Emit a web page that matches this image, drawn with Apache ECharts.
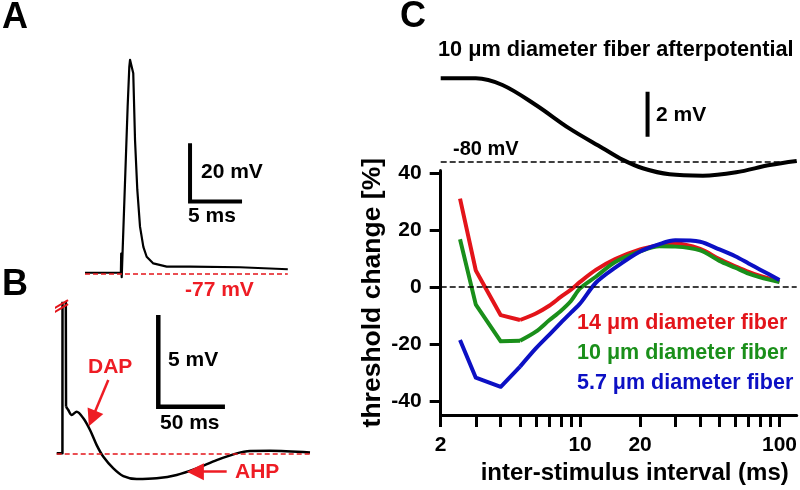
<!DOCTYPE html>
<html><head><meta charset="utf-8">
<script src="https://cdn.jsdelivr.net/npm/echarts@6/dist/echarts.min.js"></script>
<style>html,body{margin:0;padding:0;background:#fff}#c{width:800px;height:490px}</style>
</head><body><div id="c"></div>
<script>
// ---------- Panel A: action potential (time ms, membrane potential mV)
const aTime = [0, 3.45, 3.48, 3.53, 3.7, 4.1, 4.26, 4.33, 4.42, 4.52, 4.64, 4.81, 5.03, 5.29, 5.61, 5.93, 6.57, 7.86, 10.1, 14.9, 19.5];
const aVolt = [-76.8, -76.8, -70.2, -78.3, -77.8, -19.9, -6.2, -3.8, -3.3, -4.2, -8.4, -31.3, -48.4, -61.0, -67.9, -71.3, -73.6, -74.7, -74.7, -74.9, -75.6];
const aRest = -77;
const aScale = { t: 10.1, v: -52.4, dt: 5, dv: 20 };

// ---------- Panel B: afterpotentials (time ms, mV)
const bTime = [0, 4.3, 4.8, 7.0, 8.7, 11.25, 15, 20, 25, 30, 35, 42.5, 50, 60, 75, 90, 105, 120, 135, 145, 160, 190];
const bVolt = [-77, -77, -3, -74.46, -74.64, -74.91, -74.73, -75.09, -75.73, -76.55, -77.19, -77.82, -78.24, -78.40, -78.36, -78.18, -77.82, -77.37, -77.0, -76.87, -76.86, -76.95];
const bSplit = 3; // spike part drawn straight, tail smooth
const bRest = -77;
const bScale = { t: 76.2, v: -74.46, dt: 50, dv: 5 };
const dapArrow = [[38.7, -73.0], [26.6, -75.1]];
const ahpArrow = [[127.5, -78.0], [104, -78.0]];
const breakMarks = [[[-2.8, -69.13], [8.5, -68.64]], [[-2.8, -69.35], [8.5, -68.86]]];

// ---------- Panel C top: 10 um afterpotential vs inter-stimulus interval
const apTime = [2, 3, 4.08, 6, 8.83, 13, 16.4, 20.6, 28.1, 41.3, 60.7, 89.3, 122];
const apVolt = [-76.29, -76.29, -76.59, -77.48, -78.52, -79.4, -79.92, -80.29, -80.56, -80.62, -80.47, -80.15, -79.97];
const apRest = -80;
const apScale = { t: 21.8, v: -78.89, dv: 2 };

// ---------- Panel C: threshold change [%] vs inter-stimulus interval (ms)
const isi = [2.5, 3, 4, 5, 6, 7, 8, 9, 10, 12, 15, 20, 25, 30, 40, 50, 60, 70, 80, 100];
const fiber14 = [31.1, 5.8, -9.9, -11.6, -9.3, -6.6, -3.5, -0.9, 1.8, 6.0, 9.8, 13.2, 14.7, 15.3, 13.4, 9.8, 7.3, 5.3, 3.9, 1.9];
const fiber10 = [16.8, -6.2, -19.1, -18.9, -15.7, -11.7, -8.4, -4.9, -0.5, 3.6, 8.8, 12.5, 14.3, 14.2, 12.9, 9.2, 6.8, 4.7, 3.4, 1.7];
const fiber57 = [-18.6, -31.9, -35.1, -28.0, -21.6, -16.8, -12.6, -9.0, -5.8, 1.5, 6.8, 12.5, 15.1, 16.4, 15.9, 13.2, 10.8, 8.3, 6.1, 2.5];
const cSplit = 3; // 2.5..5 ms drawn as straight segments
const yTicks = [-40, -20, 0, 20, 40];
const xLabels = [2, 10, 20, 100];
const xTicks = [2, 3, 4, 5, 6, 7, 8, 9, 10, 20, 30, 40, 50, 60, 70, 80, 90, 100];
const legendNames = ['14 \u03bcm diameter fiber', '10 \u03bcm diameter fiber', '5.7 \u03bcm diameter fiber'];

const RED = '#e3141a', GREEN = '#1a8f1a', BLUE = '#0c10c4', TRED = '#ee1c24';
const FONT = '"Liberation Sans", Arial, Helvetica, sans-serif';

function pairs(xs, ys, from, to) {
  const out = [];
  const a = from || 0, b = (to === undefined ? xs.length : to);
  for (let i = a; i < b; i++) out.push([xs[i], ys[i]]);
  return out;
}
function lineS(xi, data, color, width, extra) {
  return Object.assign({
    type: 'line', xAxisIndex: xi, yAxisIndex: xi, data: data, symbol: 'none',
    lineStyle: { color: color, width: width, join: 'round', cap: 'butt' },
    silent: true, animation: false
  }, extra || {});
}
function hLine(val, color, width, dash) {
  return { silent: true, symbol: 'none', label: { show: false },
    lineStyle: { color: color, width: width, type: dash }, data: [{ yAxis: val }] };
}
function txt(x, y, text, size, color) {
  return { type: 'text', x: x, y: y, silent: true,
    style: { text: text, font: 'bold ' + size + 'px ' + FONT, fill: color || '#000', align: 'left', verticalAlign: 'middle' } };
}
const hidden = { show: false };

const chart = echarts.init(document.getElementById('c'), null, { renderer: 'canvas' });
const series = [];
// A
series.push(lineS(0, pairs(aTime, aVolt), '#000', 2.2, { markLine: hLine(aRest, RED, 1.5, [5, 3]), z: 3 }));
series.push(lineS(0, [[aScale.t, aScale.v + aScale.dv], [aScale.t, aScale.v], [aScale.t + aScale.dt, aScale.v]], '#000', 4, { lineStyle: { color: '#000', width: 4, join: 'miter' } }));
// B
series.push(lineS(1, pairs(bTime, bVolt, 0, bSplit + 1), '#000', 2.5, { markLine: hLine(bRest, RED, 1.5, [5, 3]) }));
series.push(lineS(1, pairs(bTime, bVolt, bSplit), '#000', 2.5, { smooth: 0.3,
  markLine: { silent: true, symbol: ['none', 'triangle'], symbolSize: 17, label: { show: false },
    lineStyle: { color: TRED, width: 2.5, type: 'solid' }, itemStyle: { color: TRED },
    data: [[{ coord: dapArrow[0] }, { coord: dapArrow[1] }], [{ coord: ahpArrow[0] }, { coord: ahpArrow[1] }]] } }));
breakMarks.forEach(function (m) { series.push(lineS(1, m, RED, 2, { clip: false })); });
series.push(lineS(1, [[bScale.t, bScale.v + bScale.dv], [bScale.t, bScale.v], [bScale.t + bScale.dt, bScale.v]], '#000', 4.5, { lineStyle: { color: '#000', width: 4.5, join: 'miter' } }));
// C top
series.push(lineS(2, pairs(apTime, apVolt), '#000', 4, { smooth: 0.35, markLine: hLine(apRest, '#000', 1.5, [6, 3]) }));
series.push(lineS(2, [[apScale.t, apScale.v], [apScale.t, apScale.v + apScale.dv]], '#000', 4));
// C main
[[fiber14, RED], [fiber10, GREEN], [fiber57, BLUE]].forEach(function (f, k) {
  series.push(lineS(3, pairs(isi, f[0], 0, cSplit + 1), f[1], 4, k === 0 ? { markLine: hLine(0, '#000', 1.5, [6, 3]) } : {}));
  series.push(lineS(3, pairs(isi, f[0], cSplit), f[1], 4, { smooth: 0.3 }));
});

const option = {
  animation: false,
  backgroundColor: '#fff',
  grid: [
    { left: 85, top: 48.8, width: 202.8, height: 233.3 },
    { left: 56.7, top: 303, width: 253.3, height: 187 },
    { left: 440.7, top: 60.45, width: 356, height: 123.75 },
    { left: 440.7, top: 170.4, width: 356, height: 247.3 }
  ],
  xAxis: [
    Object.assign({ type: 'value', gridIndex: 0, min: 0, max: 19.5 }, hidden),
    Object.assign({ type: 'value', gridIndex: 1, min: 0, max: 190 }, hidden),
    Object.assign({ type: 'log', gridIndex: 2, min: 2, max: 122 }, hidden),
    { type: 'log', gridIndex: 3, min: 2, max: 122, logBase: 10,
      axisLine: { show: true, onZero: false, lineStyle: { color: '#000', width: 3 } },
      axisTick: { show: true, length: 12, customValues: xTicks, lineStyle: { color: '#000', width: 3 } },
      axisLabel: { customValues: xLabels, margin: 20, color: '#000', fontSize: 21, fontWeight: 'bold', fontFamily: FONT },
      splitLine: { show: false }, minorTick: { show: false },
      name: 'inter-stimulus interval (ms)', nameLocation: 'middle', nameGap: 46,
      nameTextStyle: { color: '#000', fontSize: 24, fontWeight: 'bold', fontFamily: FONT, padding: [0, 0, 0, 32] } }
  ],
  yAxis: [
    Object.assign({ type: 'value', gridIndex: 0, min: -80, max: 0 }, hidden),
    Object.assign({ type: 'value', gridIndex: 1, min: -79, max: -68.8 }, hidden),
    Object.assign({ type: 'value', gridIndex: 2, min: -81, max: -75.5 }, hidden),
    { type: 'value', gridIndex: 3, min: -45, max: 41,
      axisLine: { show: true, onZero: false, lineStyle: { color: '#000', width: 3 } },
      axisTick: { show: true, length: 11, customValues: yTicks, lineStyle: { color: '#000', width: 3 } },
      axisLabel: { customValues: yTicks, margin: 19, color: '#000', fontSize: 21, fontWeight: 'bold', fontFamily: FONT },
      splitLine: { show: false },
      name: 'threshold change [%]', nameLocation: 'middle', nameGap: 55,
      nameTextStyle: { color: '#000', fontSize: 26.5, fontWeight: 'bold', fontFamily: FONT } }
  ],
  graphic: [
    txt(2, 18, 'A', 36), txt(2, 285, 'B', 36), txt(400, 17, 'C', 36),
    txt(201, 172, '20 mV', 21), txt(188, 216, '5 ms', 21), txt(185, 290, '-77 mV', 21, TRED),
    txt(168, 360, '5 mV', 21), txt(160, 423, '50 ms', 21),
    txt(88, 367, 'DAP', 21, TRED), txt(235, 472, 'AHP', 21, TRED),
    txt(438, 50, '10 \u03bcm diameter fiber afterpotential', 21.7),
    txt(656, 115, '2 mV', 21), txt(453, 149, '-80 mV', 20),
    txt(577, 323, legendNames[0], 21.5, RED), txt(577, 353, legendNames[1], 21.5, GREEN), txt(577, 383, legendNames[2], 21.5, BLUE)
  ],
  series: series
};
chart.setOption(option);
</script></body></html>
